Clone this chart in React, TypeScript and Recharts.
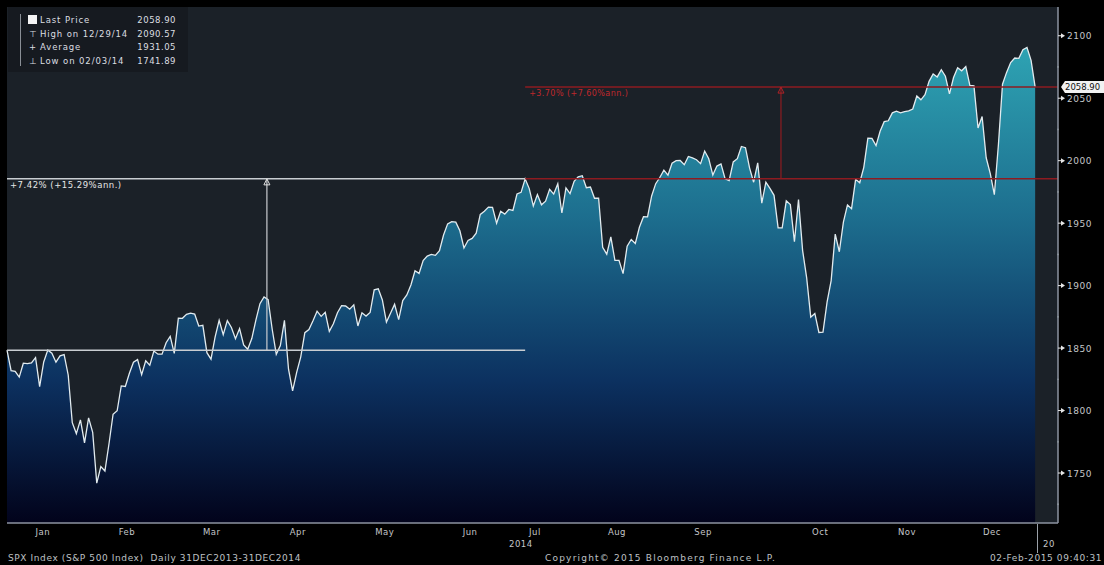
import React from 'react'
import {
  AreaChart,
  Area,
  XAxis,
  YAxis,
  CartesianGrid,
  ReferenceLine,
  ReferenceDot
} from 'recharts'

// SPX daily closes, 31DEC2013 .. 31DEC2014 (one per trading day)
const closes = [
  1848.36,
  // Jan
  1831.98, 1831.37, 1826.77, 1837.88, 1837.49, 1838.13, 1842.37, 1819.2, 1838.88, 1848.38, 1845.89,
  1838.7, 1843.8, 1844.86, 1828.46, 1790.29, 1781.56, 1792.5, 1774.2, 1794.19, 1782.59,
  // Feb
  1741.89, 1755.2, 1751.64, 1773.43, 1797.02, 1799.84, 1819.75, 1819.26, 1829.83, 1838.63, 1840.76,
  1828.75, 1839.78, 1836.25, 1847.61, 1845.12, 1845.16, 1854.29, 1859.45,
  // Mar
  1845.73, 1873.91, 1873.81, 1877.03, 1878.04, 1877.17, 1867.63, 1868.2, 1846.34, 1841.13, 1858.83,
  1872.25, 1860.77, 1872.01, 1866.52, 1857.44, 1865.62, 1852.56, 1849.04, 1857.62, 1872.34,
  // Apr
  1885.52, 1890.9, 1888.77, 1865.09, 1845.04, 1851.96, 1872.18, 1833.08, 1815.69, 1830.61, 1842.98,
  1862.31, 1864.85, 1871.89, 1879.55, 1875.39, 1878.61, 1863.4, 1869.43, 1878.33, 1883.95,
  // May
  1883.68, 1881.14, 1884.66, 1867.72, 1878.21, 1875.63, 1878.48, 1896.65, 1897.45, 1888.53, 1870.85,
  1877.86, 1885.08, 1872.83, 1888.03, 1892.49, 1900.53, 1911.91, 1909.78, 1920.03, 1923.57,
  // Jun
  1924.97, 1924.24, 1927.88, 1940.46, 1949.44, 1951.27, 1950.79, 1943.89, 1930.11, 1936.16, 1937.78,
  1941.99, 1956.98, 1959.48, 1962.87, 1962.61, 1949.98, 1959.53, 1957.22, 1960.96, 1960.23,
  // Jul
  1973.32, 1974.62, 1985.44, 1977.65, 1963.71, 1972.83, 1964.68, 1967.57, 1977.1, 1973.28, 1981.57,
  1958.12, 1978.22, 1973.63, 1983.53, 1987.01, 1987.98, 1978.34, 1978.91, 1969.95, 1970.07, 1930.67,
  // Aug
  1925.15, 1938.99, 1920.21, 1920.24, 1909.57, 1931.59, 1936.92, 1933.75, 1946.72, 1955.18, 1955.06,
  1971.74, 1981.6, 1986.51, 1992.37, 1988.4, 1997.92, 2000.02, 2000.12, 1996.74, 2003.37,
  // Sep
  2002.28, 2000.72, 1997.65, 2007.71, 2001.54, 1988.44, 1995.69, 1997.45, 1985.54, 1984.13, 1998.98,
  2001.57, 2011.36, 2010.4, 1994.29, 1982.77, 1998.3, 1965.99, 1982.85, 1977.8, 1972.29,
  // Oct
  1946.16, 1946.17, 1967.9, 1964.82, 1935.1, 1968.89, 1928.21, 1906.13, 1874.74, 1877.7, 1862.49,
  1862.76, 1886.76, 1904.01, 1941.28, 1927.11, 1950.82, 1964.58, 1961.63, 1985.05, 1982.3, 1994.65,
  2018.05,
  // Nov
  2017.81, 2012.1, 2023.57, 2031.21, 2031.92, 2038.26, 2039.68, 2038.25, 2039.33, 2039.82, 2041.32,
  2051.8, 2048.72, 2052.75, 2063.5, 2069.41, 2067.03, 2072.83, 2067.56,
  // Dec
  2053.44, 2066.55, 2074.33, 2071.92, 2075.37, 2060.31, 2059.82, 2026.14, 2035.33, 2002.33, 1989.63,
  1972.74, 2012.89, 2061.23, 2070.65, 2078.54, 2082.17, 2081.88, 2088.77, 2090.57, 2080.35, 2058.9
]

const monthLabels = ['Jan', 'Feb', 'Mar', 'Apr', 'May', 'Jun', 'Jul', 'Aug', 'Sep', 'Oct', 'Nov', 'Dec']
// where Bloomberg puts each month label, in trading-day index units
const monthTickPos = [8.8, 29.4, 50.2, 71.3, 92.6, 113.5, 129.4, 149.5, 170.6, 199.3, 220.6, 241.4]
const priceTicks = [1725, 1750, 1775, 1800, 1825, 1850, 1875, 1900, 1925, 1950, 1975, 2000, 2025, 2050, 2075, 2100]

const legendRows = [
  { label: 'Last Price', value: '2058.90' },
  { label: 'High on 12/29/14', value: '2090.57' },
  { label: 'Average', value: '1931.05' },
  { label: 'Low on 02/03/14', value: '1741.89' }
]

// annotation anchors (trading-day index)
const startIdx = 0
const breakIdx = 127 // 03 Jul 2014
const whiteArrowIdx = 63.7
const redArrowIdx = 189.7
const xMax = 257.6

const firstAnn = '+15.29%ann.'
const secondAnn = '+7.60%ann.'

const data = closes.map((close, i) => ({ i, close }))

const FONT = '"DejaVu Sans", Verdana, sans-serif'
const baseVal = closes[startIdx]
const breakVal = closes[breakIdx]
const lastVal = closes[closes.length - 1]
const pct = (a: number, b: number) => ((b / a - 1) * 100).toFixed(2)

const PriceTick = ({ x, y, payload }: any) => {
  const ax = x - 8
  if (payload.value % 50 !== 0) {
    return <circle cx={ax} cy={y} r={0.9} fill="#8c959c" />
  }
  return (
    <g>
      <line x1={ax} x2={ax + 5} y1={y} y2={y} stroke="#e6e6e6" strokeWidth={1} />
      <path d={`M${ax + 3},${y - 2.5}L${ax + 7},${y}L${ax + 3},${y + 2.5}Z`} fill="#e6e6e6" />
      <text x={x + 1} y={y + 3.5} fill="#c4c6c9" fontSize={9} fontFamily={FONT} style={{ letterSpacing: 0.5 }}>
        {payload.value}
      </text>
    </g>
  )
}

const MonthTick = ({ x, y, index }: any) => (
  <text x={x} y={y + 4} textAnchor="middle" fill="#c4c6c9" fontSize={8.5} fontFamily={FONT} style={{ letterSpacing: 0.5 }}>
    {monthLabels[index]}
  </text>
)

const Arrow = ({ cx, cy, color }: any) => (
  <path d={`M${cx},${cy}L${cx - 3},${cy + 6}L${cx + 3},${cy + 6}Z`} fill="none" stroke={color} strokeWidth={1} />
)

const small = { fontSize: 8.5, letterSpacing: 0.5, whiteSpace: 'nowrap' as const }
const footer = { fontSize: 9, letterSpacing: 0.6, whiteSpace: 'nowrap' as const, color: '#bfc1c4' }

const App: React.FC = () => {
  return (
    <div
      style={{
        position: 'absolute',
        left: 0,
        top: 0,
        width: 1104,
        height: 565,
        background: '#000',
        fontFamily: FONT,
        overflow: 'hidden'
      }}
    >
      <AreaChart width={1104} height={565} data={data} margin={{ top: 7, right: 0, left: 7, bottom: 0 }}>
        <defs>
          <linearGradient id="spxFill" x1="0" y1="0" x2="0" y2="1">
            <stop offset="0%" stopColor="#2ea3b3" />
            <stop offset="35%" stopColor="#1d6f8f" />
            <stop offset="70%" stopColor="#0c3160" />
            <stop offset="100%" stopColor="#02031b" />
          </linearGradient>
        </defs>
        <CartesianGrid fill="#1b2128" horizontal={false} vertical={false} />
        <XAxis
          type="number"
          dataKey="i"
          domain={[0, xMax]}
          ticks={monthTickPos}
          interval={0}
          tick={<MonthTick />}
          tickLine={false}
          axisLine={{ stroke: '#8d93a0', strokeWidth: 1.5 }}
          height={42}
        />
        <YAxis
          orientation="right"
          type="number"
          domain={[1710, 2123]}
          ticks={priceTicks}
          interval={0}
          tick={<PriceTick />}
          tickLine={false}
          axisLine={{ stroke: '#8d93a0', strokeWidth: 1.5 }}
          width={46}
        />
        <Area
          type="linear"
          dataKey="close"
          stroke="#e2ebef"
          strokeWidth={1.3}
          fill="url(#spxFill)"
          fillOpacity={1}
          dot={false}
          activeDot={false}
          isAnimationActive={false}
        />

        {/* white move: 31 Dec -> 03 Jul */}
        <ReferenceLine
          segment={[{ x: startIdx, y: baseVal }, { x: breakIdx, y: baseVal }]}
          stroke="#c9cdd1"
          strokeWidth={1.5}
        />
        <ReferenceLine
          segment={[{ x: startIdx, y: breakVal }, { x: breakIdx, y: breakVal }]}
          stroke="#c9cdd1"
          strokeWidth={1.5}
          label={({ viewBox }: any) => (
            <text x={viewBox.x + 3} y={viewBox.y + 9} fill="#e6e6e6" fontSize={8.5} fontFamily={FONT} style={{ letterSpacing: 0.5 }}>
              {`+${pct(baseVal, breakVal)}% (${firstAnn})`}
            </text>
          )}
        />
        <ReferenceLine
          segment={[{ x: whiteArrowIdx, y: baseVal }, { x: whiteArrowIdx, y: breakVal }]}
          stroke="#c9cdd1"
          strokeWidth={1.2}
        />
        <ReferenceDot x={whiteArrowIdx} y={breakVal} r={3} shape={(p: any) => <Arrow {...p} color="#e0e0e0" />} />

        {/* red move: 03 Jul -> 31 Dec */}
        <ReferenceLine
          segment={[{ x: breakIdx, y: breakVal }, { x: xMax, y: breakVal }]}
          stroke="#8e1b20"
          strokeWidth={1.5}
        />
        <ReferenceLine
          segment={[{ x: breakIdx, y: lastVal }, { x: xMax, y: lastVal }]}
          stroke="#8e1b20"
          strokeWidth={1.5}
          label={({ viewBox }: any) => (
            <g>
              <text x={viewBox.x + 4} y={viewBox.y + 9} fill="#c0282c" fontSize={8} fontFamily={FONT} style={{ letterSpacing: 0.45 }}>
                {`+${pct(breakVal, lastVal)}% (${secondAnn})`}
              </text>
              <path
                d={`M${viewBox.x + viewBox.width + 3},${viewBox.y}L${viewBox.x + viewBox.width + 7},${viewBox.y - 6}L${viewBox.x + viewBox.width + 50},${viewBox.y - 6}L${viewBox.x + viewBox.width + 50},${viewBox.y + 6}L${viewBox.x + viewBox.width + 7},${viewBox.y + 6}Z`}
                fill="#f2f2f2"
              />
              <text x={viewBox.x + viewBox.width + 7} y={viewBox.y + 3} fill="#111" fontSize={8.5} fontFamily={FONT}>
                {lastVal.toFixed(2)}
              </text>
            </g>
          )}
        />
        <ReferenceLine
          segment={[{ x: redArrowIdx, y: breakVal }, { x: redArrowIdx, y: lastVal }]}
          stroke="#8e1b20"
          strokeWidth={1.2}
        />
        <ReferenceDot x={redArrowIdx} y={lastVal} r={3} shape={(p: any) => <Arrow {...p} color="#b02227" />} />
      </AreaChart>

      {/* legend box */}
      <div
        style={{
          position: 'absolute',
          left: 8,
          top: 7,
          width: 180,
          height: 65,
          background: '#161a20',
          color: '#dcdee0',
          ...small
        }}
      >
        <div style={{ position: 'absolute', left: 12, top: 7, width: 1, height: 52, background: '#8a8f96' }} />
        {legendRows.map((row, k) => (
          <div key={k} style={{ position: 'absolute', left: 0, top: 8 + k * 13.6, width: 180, height: 10 }}>
            {k === 0 ? (
              <div style={{ position: 'absolute', left: 20, top: 0, width: 9, height: 9, background: '#f4f4f4' }} />
            ) : (
              <span style={{ position: 'absolute', left: 21, top: 0, lineHeight: '10px' }}>
                {k === 1 ? '\u22A4' : k === 2 ? '+' : '\u22A5'}
              </span>
            )}
            <span style={{ position: 'absolute', left: 32, top: 0, lineHeight: '10px', letterSpacing: 0.9 }}>{row.label}</span>
            <span style={{ position: 'absolute', right: 12, top: 0, lineHeight: '10px' }}>{row.value}</span>
          </div>
        ))}
      </div>

      {/* year markers under the axis */}
      <div style={{ position: 'absolute', left: 509, top: 539, color: '#c4c6c9', ...small }}>2014</div>
      <div style={{ position: 'absolute', left: 1037, top: 524, width: 1, height: 29, background: '#9aa0a8' }} />
      <div style={{ position: 'absolute', left: 1043, top: 539, color: '#c4c6c9', ...small }}>20</div>

      {/* footer */}
      <div style={{ position: 'absolute', left: 8, top: 553, ...footer }}>
        SPX Index (S&amp;P 500 Index) &nbsp;Daily 31DEC2013-31DEC2014
      </div>
      <div style={{ position: 'absolute', left: 545, top: 553, ...footer, letterSpacing: 1.2 }}>
        Copyright© 2015 Bloomberg Finance L.P.
      </div>
      <div style={{ position: 'absolute', left: 990, top: 553, ...footer }}>
        02-Feb-2015 09:40:31
      </div>
    </div>
  )
}

export default App
